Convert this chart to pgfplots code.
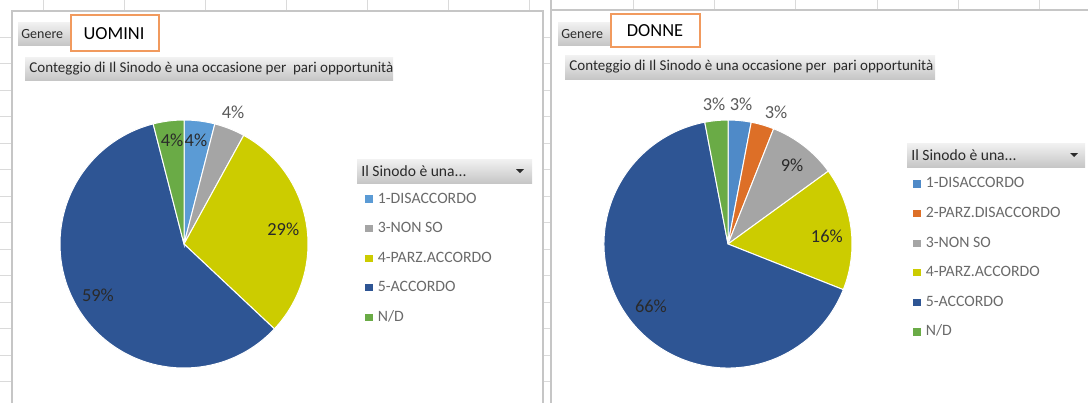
\documentclass[border=0pt]{standalone}
\usepackage{fontspec}
\setmainfont{Carlito}
\usepackage{pgfplots}
\pgfplotsset{compat=1.18}

\definecolor{xlblue}{HTML}{5B9BD5}
\definecolor{xlblueb}{HTML}{4F8AC8}
\definecolor{xlorange}{HTML}{DD6F27}
\definecolor{xlgray}{HTML}{A5A5A5}
\definecolor{xlyellow}{HTML}{CCCC00}
\definecolor{xlnavy}{HTML}{2E5594}
\definecolor{xlgreen}{HTML}{6AAB46}
\definecolor{labeldark}{HTML}{2A2A2A}
\definecolor{labelgray}{HTML}{595959}
\definecolor{legtext}{HTML}{6A6A6A}
\definecolor{gridc}{HTML}{DADADA}
\definecolor{framec}{HTML}{C6C6C6}
\definecolor{btntop}{HTML}{F2F2F2}
\definecolor{btnbot}{HTML}{C6C6C6}
\definecolor{boxorange}{HTML}{F19A5E}

% one slice: start angle, percent, colour (clockwise from the start angle)
\newcommand\slice[3]{%
  \addplot[fill=#3, draw=white, line width=0.5pt, data cs=polar]
    coordinates {(0,0) (#1,1)}
    arc[start angle=#1, delta angle={-3.6*#2}, radius=62pt] -- cycle;
}

\tikzset{btn/.style={top color=btntop, bottom color=btnbot}}
\pgfplotsset{
  pie/.style={
    x=62pt, y=62pt, xmin=-1, xmax=1, ymin=-1, ymax=1,
    hide axis, clip=false, anchor=center,
    legend cell align=left,
    legend image code/.code={\fill[##1, draw=none] (0pt,-1.8pt) rectangle (3.6pt,1.8pt);},
    legend style={anchor=north west, draw=none, fill=none, inner sep=0pt,
      font=\fontsize{7.9}{8}\selectfont, text=legtext, row sep=8.8pt,
      nodes={inner sep=0pt, text height=5pt, text depth=1pt},
      /tikz/every odd column/.append style={column sep=2.6pt}},
  },
  pctlabel/.style={forget plot, data cs=polar, only marks, mark=*, mark size=0pt,
    mark options={draw=none, fill=none},
    nodes near coords, point meta=explicit symbolic, nodes near coords align={center},
    every node near coord/.append style={font=\fontsize{9.2}{10}\selectfont, text=#1, inner sep=0pt}},
}

\begin{document}
\begin{tikzpicture}[x=0.5pt, y=-0.5pt]
\useasboundingbox (0,0) rectangle (1088,403);

% worksheet grid around the two charts
\foreach \gx in {43,124,205,286,367,448,529} \draw[gridc, line width=0.5pt] (\gx,0) -- (\gx,11);
\foreach \gx in {633,714,795,877,958,1039} \draw[gridc, line width=0.5pt] (\gx,0) -- (\gx,10);
\foreach \k in {0,...,13} {
  \draw[gridc, line width=0.5pt] (0,{37+26.5*\k}) -- (12,{37+26.5*\k});
  \draw[gridc, line width=0.5pt] (543,{37+26.5*\k}) -- (551,{37+26.5*\k});
}
\draw[framec, line width=0.8pt] (12,403) -- (12,11) -- (543,11) -- (543,403);
\draw[framec, line width=0.8pt] (551,0) -- (551,403);
\draw[framec, line width=0.8pt] (551,10) -- (1088,10);

% pivot buttons, left
\shade[btn] (18,22) rectangle (71,45);
\node[anchor=west, inner sep=0pt, font=\fontsize{7}{8}\selectfont, text=labeldark] at (21,34) {Genere};
\draw[boxorange, fill=white, line width=0.6pt] (71,15) rectangle (159,51);
\node[inner sep=0pt, font=\fontsize{9.2}{10}\selectfont] at (114,34) {UOMINI};
\shade[btn] (25,57) rectangle (393,80);
\node[anchor=west, inner sep=0pt, font=\fontsize{7.5}{8}\selectfont, text=labeldark] at (29,68.5) {Conteggio di Il Sinodo è una occasione per\ \ pari opportunità};
\shade[btn] (357,159) rectangle (532,183);
\node[anchor=west, inner sep=0pt, font=\fontsize{7.8}{8}\selectfont, text=labeldark] at (361,171) {Il Sinodo è una...};
\fill[labeldark] (516,169) -- (524,169) -- (520,173) -- cycle;

% pivot buttons, right
\shade[btn] (558,22) rectangle (611,45);
\node[anchor=west, inner sep=0pt, font=\fontsize{7}{8}\selectfont, text=labeldark] at (561,34) {Genere};
\draw[boxorange, fill=white, line width=0.6pt] (611,14) rectangle (700,47);
\node[inner sep=0pt, font=\fontsize{9.2}{10}\selectfont] at (655,31) {DONNE};
\shade[btn] (565,55) rectangle (935,79);
\node[anchor=west, inner sep=0pt, font=\fontsize{7.5}{8}\selectfont, text=labeldark] at (569,67) {Conteggio di Il Sinodo è una occasione per\ \ pari opportunità};
\shade[btn] (907,143) rectangle (1085,167);
\node[anchor=west, inner sep=0pt, font=\fontsize{7.8}{8}\selectfont, text=labeldark] at (911,155) {Il Sinodo è una...};
\fill[labeldark] (1070,153) -- (1078,153) -- (1074,157) -- cycle;

% UOMINI
\begin{axis}[pie, at={(92pt,-122pt)}, legend style={at={(1.230,0.707)}}]
\slice{90}{4}{xlblue}
\slice{75.6}{4}{xlgray}
\slice{61.2}{29}{xlyellow}
\slice{-43.2}{59}{xlnavy}
\slice{-255.6}{4}{xlgreen}
\addplot[pctlabel=labeldark] coordinates {(83.4,0.84) [4\%] (96.6,0.84) [4\%] (8.6,0.81) [29\%] (211,0.81) [59\%]};
\addplot[pctlabel=labelgray] coordinates {(69.5,1.13) [4\%]};
\legend{1-DISACCORDO,3-NON SO,4-PARZ.ACCORDO,5-ACCORDO,N/D}
\end{axis}

% DONNE
\begin{axis}[pie, at={(364pt,-122pt)}, legend style={at={(1.246,0.768)}}]
\slice{90}{3}{xlblueb}
\slice{79.2}{3}{xlorange}
\slice{68.4}{9}{xlgray}
\slice{36}{16}{xlyellow}
\slice{-21.6}{66}{xlnavy}
\slice{-259.2}{3}{xlgreen}
\addplot[pctlabel=labeldark] coordinates {(51,0.82) [9\%] (4.6,0.80) [16\%] (219,0.80) [66\%]};
\addplot[pctlabel=labelgray] coordinates {(95.7,1.135) [3\%] (84.7,1.134) [3\%] (70,1.133) [3\%]};
\legend{1-DISACCORDO,2-PARZ.DISACCORDO,3-NON SO,4-PARZ.ACCORDO,5-ACCORDO,N/D}
\end{axis}
\end{tikzpicture}
\end{document}
